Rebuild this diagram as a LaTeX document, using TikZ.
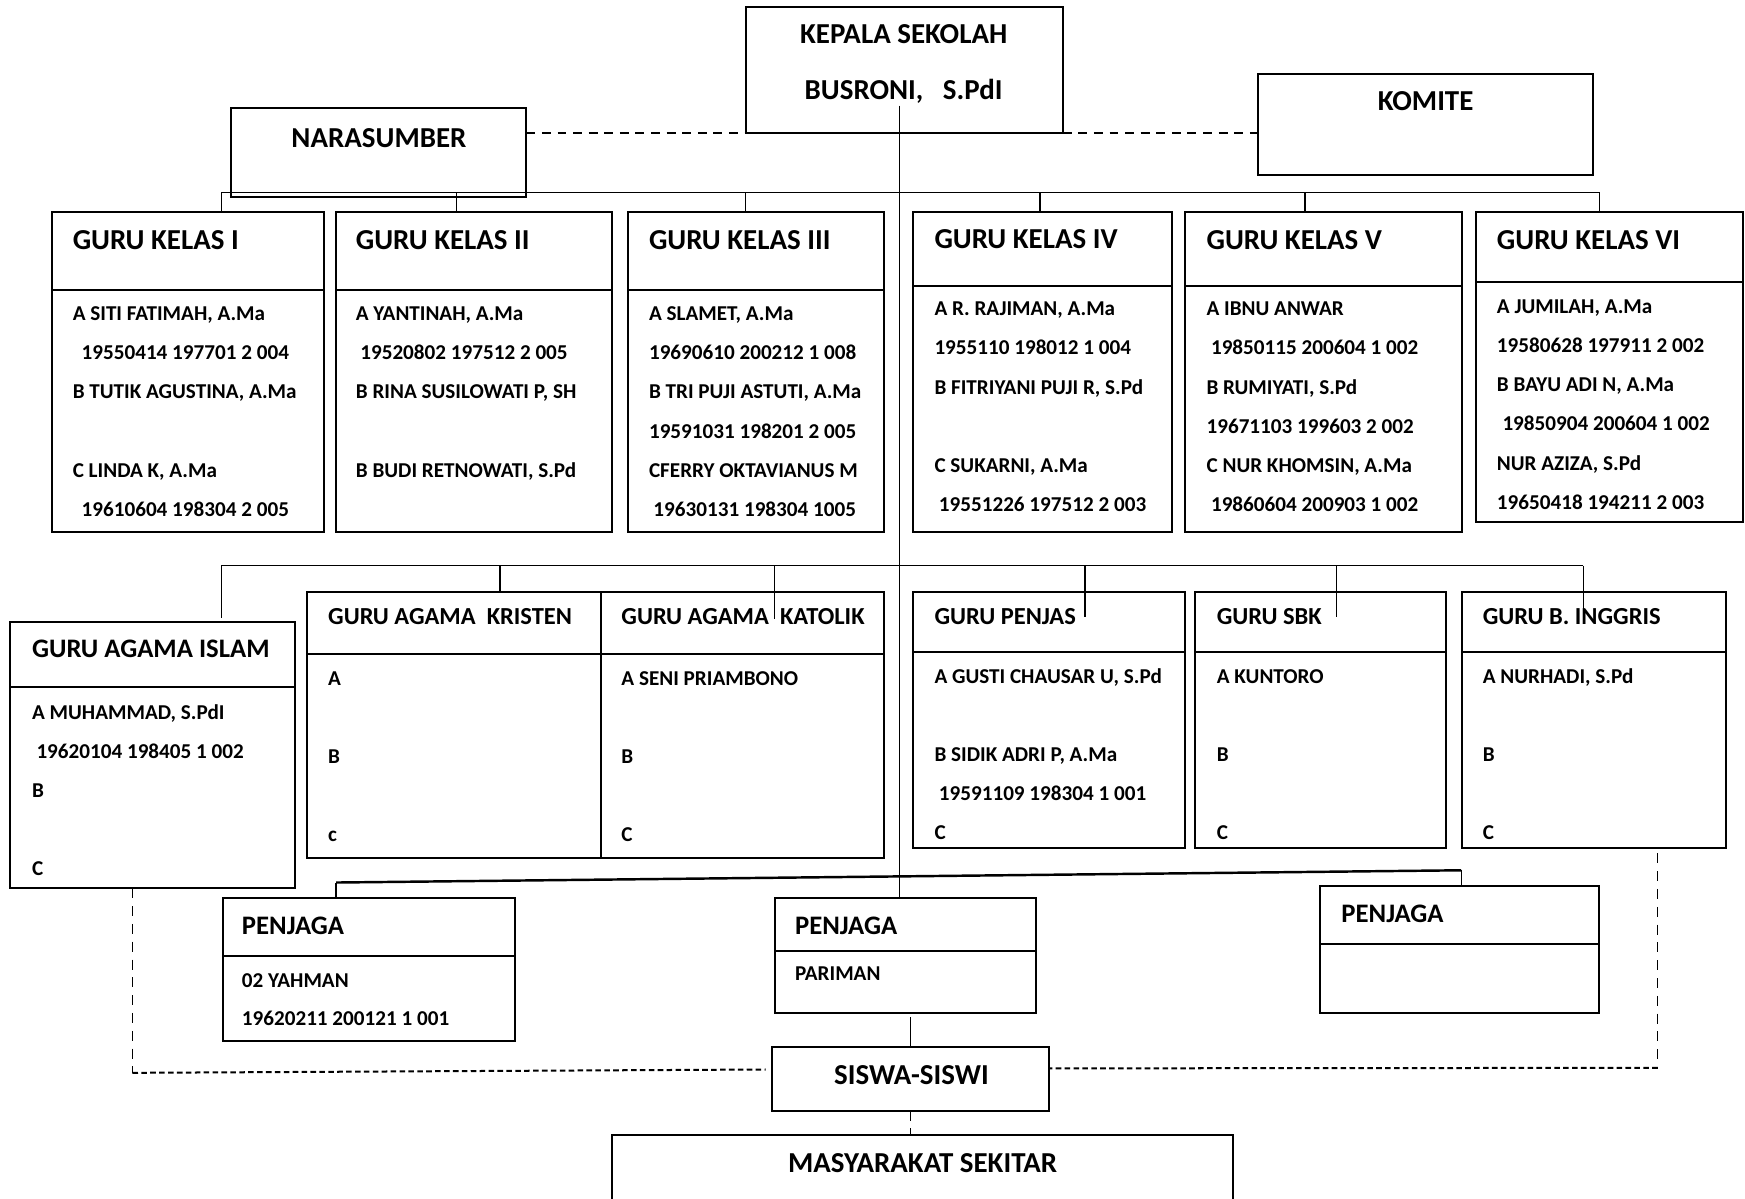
\documentclass[tikz,border=0pt]{standalone}
\usepackage{fontspec}
\setmainfont{Carlito}
\usetikzlibrary{fit}
\newcommand\kbox[6]{%
  \node[box, fit={(#2,#3)(#4,#5)}] (#1) {};
  \draw[sepl] (#2,#6) -- (#4,#6);}
\newcommand\blines[5]{%
  \foreach \n/\txt in {#5} \node[body] (#1l\n) at (#2,{#3+6+(\n-1)*#4}) {\txt};}
\begin{document}
\begin{tikzpicture}[x=0.5pt,y=-0.5pt,
  box/.style={draw, line width=0.9pt, inner sep=0pt, outer sep=0pt},
  sepl/.style={line width=0.9pt},
  ln/.style={line width=0.6pt},
  lnthick/.style={line width=1.1pt},
  tdash/.style={line width=0.7pt, dash pattern=on 4pt off 3pt},
  hdash/.style={line width=0.9pt, dash pattern=on 2.5pt off 1.5pt},
  vdash/.style={line width=0.6pt, dash pattern=on 4.5pt off 3.5pt},
  hA/.style={font=\bfseries\fontsize{13}{15}\selectfont, inner sep=0pt, anchor=base west},
  hAc/.style={hA, anchor=base},
  hB/.style={font=\bfseries\fontsize{11}{13}\selectfont, inner sep=0pt, anchor=base west},
  hC/.style={font=\bfseries\fontsize{12}{14}\selectfont, inner sep=0pt, anchor=base west},
  body/.style={font=\bfseries\fontsize{9.5}{11}\selectfont, inner sep=0pt, anchor=base west},
]
\clip (0,0) rectangle (1568,1077);
\fill[white] (0,0) rectangle (1568,1077);

% ---------- top row ----------
\node[box, fit={(670,6)(955,119.5)}] (kepala) {};
\node[box, fit={(208,97)(473,177)}] (nara) {};
\node[box, fit={(1130.5,66.5)(1431.5,157.3)}] (komite) {};
\node[hAc] (kepT1) at (812,39.2) {KEPALA SEKOLAH};
\node[hAc] (kepT2) at (812,89.2) {BUSRONI,\ \ \ S.PdI};
\node[hAc] (naraT) at (340.5,132.5) {NARASUMBER};
\node[hAc] (komT) at (1281,99.6) {KOMITE};

% ---------- guru kelas ----------
\kbox{k1}{46.6}{190.8}{291}{477.7}{260.6}
\kbox{k2}{301.5}{190.8}{550}{477.7}{260.6}
\kbox{k3}{564.3}{190.8}{794.3}{477.7}{260.6}
\kbox{k4}{820.4}{190.8}{1053}{477.7}{256.7}
\kbox{k5}{1065}{190.8}{1313.7}{477.7}{256.7}
\kbox{k6}{1326}{190.8}{1566}{468.8}{253.4}
\node[hA] (k1h) at (65,224.2) {GURU KELAS I};
\node[hA] (k2h) at (319.4,224.2) {GURU KELAS II};
\node[hA] (k3h) at (582.8,224.2) {GURU KELAS III};
\node[hA] (k4h) at (839.3,223.2) {GURU KELAS IV};
\node[hA] (k5h) at (1083.8,223.8) {GURU KELAS V};
\node[hA] (k6h) at (1344.7,224.2) {GURU KELAS VI};
\blines{k1}{65}{282.1}{35.2}{1/{A SITI FATIMAH, A.Ma},2/{\kern4pt 19550414 197701 2 004},3/{B TUTIK AGUSTINA, A.Ma},5/{C LINDA K, A.Ma},6/{\kern4pt 19610604 198304 2 005}}
\blines{k2}{319.4}{282.1}{35.2}{1/{A YANTINAH, A.Ma},2/{\kern2pt 19520802 197512 2 005},3/{B RINA SUSILOWATI P, SH},5/{B BUDI RETNOWATI, S.Pd}}
\blines{k3}{582.8}{282.1}{35.2}{1/{A SLAMET, A.Ma},2/{19690610 200212 1 008},3/{B TRI PUJI ASTUTI, A.Ma},4/{19591031 198201 2 005},5/{CFERRY OKTAVIANUS M},6/{\kern2pt 19630131 198304 1005}}
\blines{k4}{839.3}{277.7}{35.2}{1/{A R. RAJIMAN, A.Ma},2/{1955110 198012 1 004},3/{B FITRIYANI PUJI R, S.Pd},5/{C SUKARNI, A.Ma},6/{\kern2pt 19551226 197512 2 003}}
\blines{k5}{1083.8}{277.7}{35.2}{1/{A IBNU ANWAR},2/{\kern2pt 19850115 200604 1 002},3/{B RUMIYATI, S.Pd},4/{19671103 199603 2 002},5/{C NUR KHOMSIN, A.Ma},6/{\kern2pt 19860604 200903 1 002}}
\blines{k6}{1344.7}{275.6}{35.2}{1/{A JUMILAH, A.Ma},2/{19580628 197911 2 002},3/{B BAYU ADI N, A.Ma},4/{\kern2.5pt 19850904 200604 1 002},5/{NUR AZIZA, S.Pd},6/{19650418 194211 2 003}}

% ---------- second row ----------
\kbox{islam}{9.3}{558.6}{265.1}{798.2}{617.6}
\kbox{kris}{276}{532.3}{539.6}{771.3}{588}
\kbox{kato}{539.6}{532.3}{794.4}{771.3}{588}
\kbox{pen}{820.5}{532.3}{1064.9}{762.3}{585.6}
\kbox{sbk}{1073.8}{532.3}{1298.9}{762.3}{585.6}
\kbox{ing}{1313.7}{532.3}{1550.7}{762.3}{585.6}
\node[hC] (islamh) at (28.4,591.1) {GURU AGAMA ISLAM};
\node[hB] (krish) at (294.5,561) {GURU AGAMA\ \ KRISTEN};
\node[hB] (katoh) at (558,561) {GURU AGAMA\ \ KATOLIK};
\node[hB] (penh) at (839.3,561) {GURU PENJAS};
\node[hB] (sbkh) at (1093,561) {GURU SBK};
\node[hB] (ingh) at (1332,561) {GURU B. INGGRIS};
\blines{islam}{28.4}{640.4}{35}{1/{A MUHAMMAD, S.PdI},2/{\kern2pt 19620104 198405 1 002},3/{B},5/{C}}
\blines{kris}{294.5}{610.4}{35}{1/{A},3/{B},5/{c}}
\blines{kato}{558}{610.4}{35}{1/{A SENI PRIAMBONO},3/{B},5/{C}}
\blines{pen}{839.3}{608}{35}{1/{A GUSTI CHAUSAR U, S.Pd},3/{B SIDIK ADRI P, A.Ma},4/{\kern2pt 19591109 198304 1 001},5/{C}}
\blines{sbk}{1093}{608}{35}{1/{A KUNTORO},3/{B},5/{C}}
\blines{ing}{1332}{608}{35}{1/{A NURHADI, S.Pd},3/{B},5/{C}}

% ---------- penjaga & bottom ----------
\kbox{pj1}{200}{807.2}{463}{935.1}{859}
\kbox{pj2}{696}{807.2}{931}{910}{854.2}
\kbox{pj3}{1186}{796.1}{1437}{910}{848.5}
\node[box, fit={(694,940.5)(943,998)}] (siswa) {};
\node[box, fit={(550,1019.9)(1108,1100)}] (masy) {};
\node[hC] (pj1h) at (217,839.4) {PENJAGA};
\node[hC] (pj2h) at (714,839.4) {PENJAGA};
\node[hC] (pj3h) at (1205,828.9) {PENJAGA};
\node[body] (pj1a) at (217,887.2) {02 YAHMAN};
\node[body] (pj1b) at (217,921.6) {19620211 200121 1 001};
\node[body] (pj2a) at (714,881.2) {PARIMAN};
\node[hAc] (siswaT) at (819,974.2) {SISWA-SISWI};
\node[hAc] (masyT) at (829,1053.5) {MASYARAKAT SEKITAR};

% ---------- connectors ----------
\coordinate (vtop) at (808,95);
\draw[ln] (vtop) -- (vtop |- pj2.north);

\coordinate (b1) at (199,172.8);
\coordinate (b2) at (410,172.8);
\coordinate (b3) at (670,172.8);
\coordinate (b4) at (934.5,172.8);
\coordinate (b5) at (1172.5,172.8);
\coordinate (b6) at (1437,172.8);
\draw[ln] (b1) -- (b6);
\foreach \i/\k in {1/k1,2/k2,3/k3,4/k4,5/k5,6/k6}
  \draw[ln] (b\i) -- (b\i |- \k.north);

\coordinate (c1) at (199,508.3);
\coordinate (c2) at (449.3,508.3);
\coordinate (c3) at (696,508.3);
\coordinate (c4) at (975,508.3);
\coordinate (c5) at (1200.7,508.3);
\coordinate (c6) at (1422.8,508.3);
\draw[ln] (c1) -- (c6);
\coordinate (e1) at (199,555);
\coordinate (e3) at (696,556);
\coordinate (e4) at (975,554.7);
\coordinate (e5) at (1200.7,554.7);
\coordinate (e6) at (1422.8,554.7);
\draw[ln] (c1) -- (e1);
\draw[ln] (c2) -- (c2 |- kris.north);
\draw[ln] (c3) -- (e3);
\draw[ln] (c4) -- (e4);
\draw[ln] (c5) -- (e5);
\draw[ln] (c6) -- (e6);

\coordinate (p1) at (302,793);
\coordinate (p3) at (1313,782);
\draw[lnthick] (p1) -- (p3);
\draw[ln] (p1) -- (p1 |- pj1.north);
\draw[ln] (p3) -- (p3 |- pj3.north);

\coordinate (s1) at (818,914);
\draw[ln] (s1) -- (s1 |- siswa.north);
\draw[vdash] (siswa.south -| s1) -- (masy.north -| s1);

\draw[tdash] (nara.east |- kepala.south) -- (kepala.south west);
\draw[tdash] (kepala.south east) -- (komite.west |- kepala.south);

\coordinate (l1) at (119,798.2);
\coordinate (l2) at (119,964);
\coordinate (l3) at (688,961);
\draw[vdash] (l1) -- (l2);
\draw[hdash] (l2) -- (l3);
\coordinate (r1) at (1489.6,766.8);
\coordinate (r2) at (1489.6,959.5);
\coordinate (r3) at (943,960);
\draw[vdash] (r1) -- (r2);
\draw[hdash] (r2) -- (r3);
\end{tikzpicture}
\end{document}
